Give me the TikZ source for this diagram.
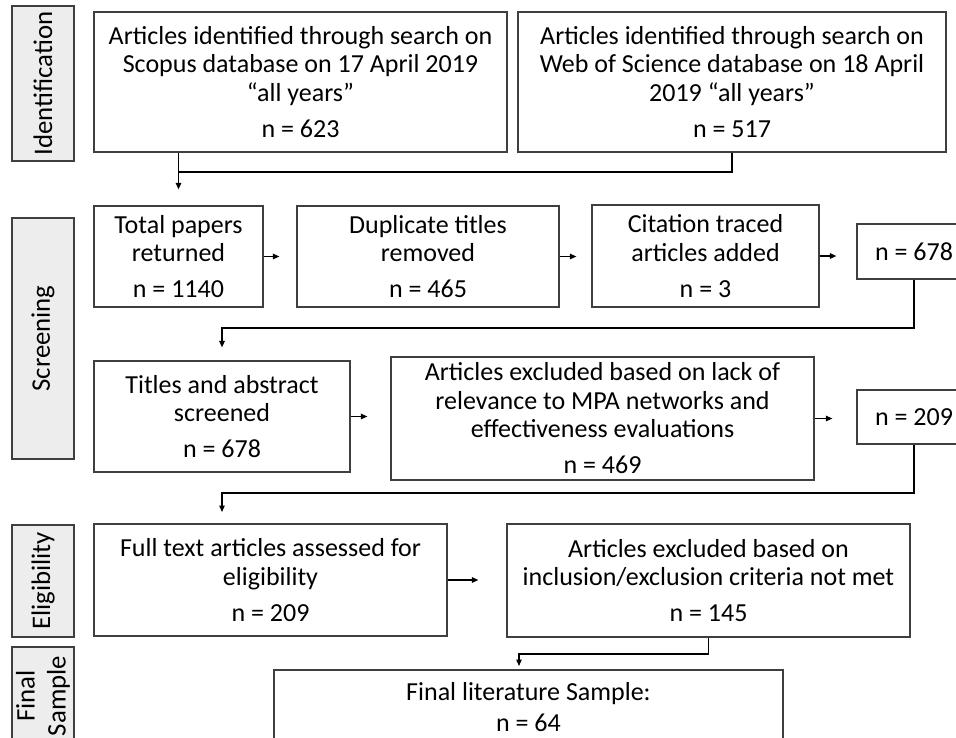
\documentclass[tikz,border=0pt]{standalone}
\usepackage{fontspec}
\setmainfont{Carlito}
\usetikzlibrary{arrows.meta,calc}
\definecolor{bordergray}{HTML}{3F3F3F}
\definecolor{labelfill}{HTML}{EDEDED}
\begin{document}
\begin{tikzpicture}[x=1pt,y=-1pt,
  box/.style={draw=bordergray, line width=1.2pt, fill=white, align=center, inner sep=0pt,
    font=\fontsize{26}{28.5}\selectfont},
  lab/.style={draw=bordergray, line width=1.2pt, fill=labelfill, align=center, inner sep=0pt,
    rotate=90, minimum height=62pt, font=\fontsize{26.8}{31}\selectfont},
  arr/.style={line width=1.3pt, -{Triangle[length=6.5pt,width=5.5pt]}},
  conn/.style={line width=1.3pt}]
\useasboundingbox (0,0) rectangle (956,737);
\clip (0,0) rectangle (956,737);
% stage labels
\node[lab, minimum width=155pt] (idlab) at (43,83.5) {Identification};
\node[lab, minimum width=241pt] (scrlab) at (43,338.5) {Screening};
\node[lab, minimum width=112pt] (elilab) at (43,581) {Eligibility};
\node[lab, minimum width=98pt] (finlab) at (43,696) {Final\\Sample};
% boxes
\node[box, minimum width=413pt, minimum height=140pt] (scopus) at (300.5,82)
  {Articles identified through search on\\Scopus database on 17 April 2019\\“all years”\\[7.5pt]n = 623};
\node[box, minimum width=428pt, minimum height=140pt] (wos) at (732,82)
  {Articles identified through search on\\Web of Science database on 18 April\\2019 “all years”\\[7.5pt]n = 517};
\node[box, minimum width=169pt, minimum height=101pt] (tot) at (178.5,256.5)
  {Total papers\\returned\\[7.5pt]n = 1140};
\node[box, minimum width=262pt, minimum height=101pt] (dup) at (428,256.5)
  {Duplicate titles\\removed\\[7.5pt]n = 465};
\node[box, minimum width=227pt, minimum height=102pt] (cit) at (705.5,256)
  {Citation traced\\articles added\\[7.5pt]n = 3};
\node[box, minimum width=114pt, minimum height=55pt] (n678) at (914,251.5) {n = 678};
\node[box, minimum width=256pt, minimum height=111pt] (titles) at (222,416.5)
  {Titles and abstract\\screened\\[7.5pt]n = 678};
\node[box, minimum width=423pt, minimum height=123pt] (excl) at (602.5,418.5)
  {Articles excluded based on lack of\\relevance to MPA networks and\\effectiveness evaluations\\[7.5pt]n = 469};
\node[box, minimum width=114pt, minimum height=54pt] (n209) at (914,417) {n = 209};
\node[box, minimum width=353pt, minimum height=112pt] (full) at (270.5,580)
  {Full text articles assessed for\\eligibility\\[7.5pt]n = 209};
\node[box, minimum width=403pt, minimum height=113pt] (excl2) at (708.5,580.5)
  {Articles excluded based on\\inclusion/exclusion criteria not met\\[7.5pt]n = 145};
\node[box, minimum width=509pt, minimum height=74pt] (final) at (528.5,707)
  {Final literature Sample:\\[2pt]n = 64};
% connectors
\coordinate (j1) at (tot.north |- 0,172);
\draw[conn] (wos.south) |- (j1);
\draw[arr] (tot.north |- scopus.south) -- ($(tot.north)+(0,-16)$);
\draw[arr] (tot.east) -- ($(dup.west)+(-17,0)$);
\draw[arr] (dup.east) -- ($(cit.west |- dup.east)+(-15,0)$);
\draw[arr] (cit.east) -- ($(n678.west |- cit.east)+(-20,0)$);
\coordinate (j2) at (titles.north |- 0,328);
\draw[arr] (n678.south) |- (j2) -- ($(titles.north)+(0,-13)$);
\draw[arr] (titles.east) -- ($(excl.west |- titles.east)+(-23,0)$);
\draw[arr] (excl.east) -- ($(n209.west |- excl.east)+(-24,0)$);
\coordinate (j3) at (titles.north |- 0,493);
\draw[arr] (n209.south) |- (j3) -- ($(j3)+(0,19)$);
\draw[arr] (full.east) -- ($(excl2.west |- full.east)+(-28,0)$);
\coordinate (j4) at (519,654);
\draw[arr] (excl2.south) |- (j4) -- ($(j4)+(0,12)$);
\end{tikzpicture}
\end{document}
